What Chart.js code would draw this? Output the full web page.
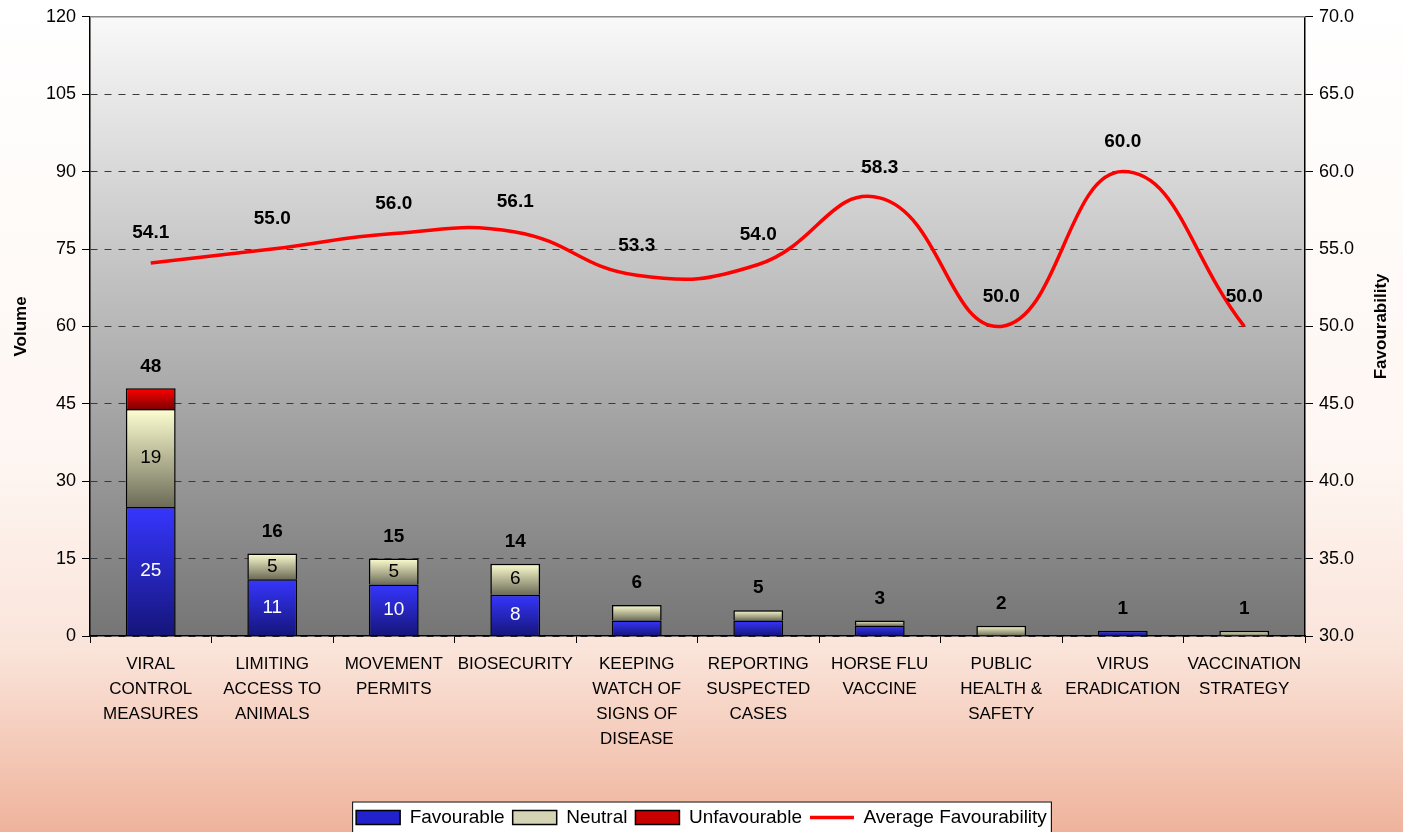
<!DOCTYPE html>
<html>
<head>
<meta charset="utf-8">
<script src="https://cdn.jsdelivr.net/npm/chart.js@4/dist/chart.umd.min.js"></script>
<style>
  html, body { margin: 0; padding: 0; background: #fff; }
  #wrap { width: 1403px; height: 832px; }
</style>
</head>
<body>
<div id="wrap"><canvas id="chart" width="1403" height="832"></canvas></div>
<script>
// data
const categories = [
    ['VIRAL', 'CONTROL', 'MEASURES'],
    ['LIMITING', 'ACCESS TO', 'ANIMALS'],
    ['MOVEMENT', 'PERMITS'],
    ['BIOSECURITY'],
    ['KEEPING', 'WATCH OF', 'SIGNS OF', 'DISEASE'],
    ['REPORTING', 'SUSPECTED', 'CASES'],
    ['HORSE FLU', 'VACCINE'],
    ['PUBLIC', 'HEALTH &', 'SAFETY'],
    ['VIRUS', 'ERADICATION'],
    ['VACCINATION', 'STRATEGY']
];
const favourable   = [25, 11, 10, 8, 3, 3, 2, 0, 1, 0];
const neutral      = [19, 5, 5, 6, 3, 2, 1, 2, 0, 1];
const unfavourable = [4, 0, 0, 0, 0, 0, 0, 0, 0, 0];
const avgFavourability = [54.1, 55.0, 56.0, 56.1, 53.3, 54.0, 58.3, 50.0, 60.0, 50.0];
const volumeTicks = [0, 15, 30, 45, 60, 75, 90, 105, 120];
const favTicks = [30, 35, 40, 45, 50, 55, 60, 65, 70];

const stacks = [favourable, neutral, unfavourable];
const totals = favourable.map((v, i) => v + neutral[i] + unfavourable[i]);

const FONT = "'Liberation Sans', Arial, sans-serif";

// verloop per staafsegment: licht boven, donker onder
function segmentGradient(top, bottom, solid) {
    return function (ctx) {
        const chart = ctx.chart;
        if (ctx.type !== 'data' || !chart.chartArea) return solid;
        const y = chart.scales.y;
        const i = ctx.dataIndex, d = ctx.datasetIndex;
        let base = 0;
        for (let k = 0; k < d; k++) base += stacks[k][i];
        const y0 = y.getPixelForValue(base);
        const y1 = y.getPixelForValue(base + stacks[d][i]);
        if (!isFinite(y0) || !isFinite(y1) || y0 === y1) return solid;
        const g = chart.ctx.createLinearGradient(0, y1, 0, y0);
        g.addColorStop(0, top);
        g.addColorStop(1, bottom);
        return g;
    };
}

const backgroundPlugin = {
    id: 'backgrounds',
    afterLayout(chart) {
        // legend sits a bit lower, its frame is cut by the page edge
        chart.legend.top += 5;
        chart.legend.bottom += 5;
    },
    beforeDraw(chart) {
        const c = chart.ctx, a = chart.chartArea;
        c.save();
        const page = c.createLinearGradient(0, 0, 0, chart.height);
        page.addColorStop(0, '#ffffff');
        page.addColorStop(0.55, '#fef6f2');
        page.addColorStop(0.78, '#fae4da');
        page.addColorStop(1, '#efb39c');
        c.fillStyle = page;
        c.fillRect(0, 0, chart.width, chart.height);

        const plot = c.createLinearGradient(0, a.top, 0, a.bottom);
        plot.addColorStop(0, '#f9f9f9');
        plot.addColorStop(1, '#757575');
        c.fillStyle = plot;
        c.fillRect(a.left, a.top, a.right - a.left, a.bottom - a.top);

        // legend frame
        const boxes = chart.legend.legendHitBoxes;
        if (boxes && boxes.length) {
            const l = Math.min(...boxes.map(b => b.left)) - 4;
            const r = Math.max(...boxes.map(b => b.left + b.width)) + 4;
            const cy = boxes[0].top + boxes[0].height / 2;
            c.fillStyle = '#ffffff';
            c.fillRect(l, cy - 16, r - l, 40);
            c.strokeStyle = '#000';
            c.lineWidth = 1;
            c.strokeRect(l + 0.5, cy - 16 + 0.5, r - l, 40);
        }
        c.restore();
    },
    afterDraw(chart) {
        const c = chart.ctx, a = chart.chartArea;
        c.save();
        c.strokeStyle = '#8a8a8a';
        c.lineWidth = 1.5;
        c.beginPath();
        c.moveTo(a.left, a.top);
        c.lineTo(a.right, a.top);
        c.stroke();

        // right axis title, read bottom to top
        c.translate(1381, (a.top + a.bottom) / 2);
        c.rotate(-Math.PI / 2);
        c.font = 'bold 17px ' + FONT;
        c.fillStyle = '#000';
        c.textAlign = 'center';
        c.textBaseline = 'middle';
        c.fillText('Favourability', 0, 0);
        c.restore();
    }
};

const labelPlugin = {
    id: 'valueLabels',
    afterDatasetsDraw(chart) {
        const c = chart.ctx;
        c.save();
        c.textAlign = 'center';
        c.textBaseline = 'middle';

        // values inside segments
        c.font = '19px ' + FONT;
        [0, 1, 2].forEach(d => {
            const meta = chart.getDatasetMeta(d);
            meta.data.forEach((bar, i) => {
                const v = stacks[d][i];
                if (v < 5) return;
                c.fillStyle = d === 0 ? '#ffffff' : '#000000';
                c.fillText(String(v), bar.x, (bar.y + bar.base) / 2);
            });
        });

        // totals above stacks
        c.font = 'bold 19px ' + FONT;
        c.fillStyle = '#000';
        const x = chart.scales.x, y = chart.scales.y;
        totals.forEach((t, i) => {
            c.fillText(String(t), x.getPixelForValue(i), y.getPixelForValue(t) - 22);
        });

        // line values
        const lm = chart.getDatasetMeta(3);
        lm.data.forEach((pt, i) => {
            c.fillText(avgFavourability[i].toFixed(1), pt.x, pt.y - 30);
        });
        c.restore();
    }
};

new Chart(document.getElementById('chart'), {
    type: 'bar',
    data: {
        labels: categories,
        datasets: [
            {
                label: 'Favourable',
                data: favourable,
                backgroundColor: segmentGradient('#3636ff', '#15157a', '#2424c8'),
                legendColor: '#2222cc',
                borderColor: '#000',
                borderWidth: 1.5,
                yAxisID: 'y',
                order: 2
            },
            {
                label: 'Neutral',
                data: neutral,
                backgroundColor: segmentGradient('#ffffd2', '#6c6c58', '#c8c8a8'),
                legendColor: '#d4d4b4',
                borderColor: '#000',
                borderWidth: 1.5,
                yAxisID: 'y',
                order: 2
            },
            {
                label: 'Unfavourable',
                data: unfavourable,
                backgroundColor: segmentGradient('#ff0000', '#800000', '#c00000'),
                legendColor: '#c80000',
                borderColor: '#000',
                borderWidth: 1.5,
                yAxisID: 'y',
                order: 2
            },
            {
                type: 'line',
                label: 'Average Favourability',
                data: avgFavourability,
                borderColor: '#ff0000',
                backgroundColor: '#ff0000',
                borderWidth: 3.5,
                pointRadius: 0,
                tension: 0.45,
                yAxisID: 'y1',
                order: 1
            }
        ]
    },
    options: {
        responsive: false,
        animation: false,
        layout: { padding: { top: 16, left: 0, right: 0, bottom: 0 } },
        datasets: {
            bar: { barPercentage: 0.82, categoryPercentage: 0.5 }
        },
        plugins: {
            tooltip: { enabled: false },
            legend: {
                position: 'bottom',
                labels: {
                    color: '#000',
                    font: { family: FONT, size: 19 },
                    padding: 8,
                    boxWidth: 44,
                    boxHeight: 14,
                    generateLabels(chart) {
                        return chart.data.datasets.map((ds, i) => {
                            const isLine = ds.type === 'line';
                            return {
                                text: ds.label,
                                fillStyle: isLine ? '#ff0000' : ds.legendColor,
                                strokeStyle: isLine ? '#ff0000' : '#000',
                                lineWidth: isLine ? 3.5 : 1.5,
                                pointStyle: isLine ? 'line' : 'rect',
                                fontColor: '#000',
                                datasetIndex: i,
                                hidden: false
                            };
                        });
                    },
                    usePointStyle: true,
                    pointStyleWidth: 44
                }
            }
        },
        scales: {
            x: {
                stacked: true,
                grid: {
                    display: true,
                    offset: true,
                    drawOnChartArea: false,
                    color: '#000',
                    tickLength: 7
                },
                border: { color: '#000', width: 1.5 },
                ticks: {
                    color: '#000',
                    font: { family: FONT, size: 17, lineHeight: 1.47 },
                    maxRotation: 0,
                    autoSkip: false,
                    padding: 9
                },
                afterFit(s) { s.height = 159; }
            },
            y: {
                stacked: true,
                position: 'left',
                min: 0,
                max: 120,
                afterBuildTicks(s) { s.ticks = volumeTicks.map(v => ({ value: v })); },
                grid: {
                    color: '#3a3a3a',
                    lineWidth: 1,
                    tickBorderDash: [],
                    tickColor: '#000',
                    tickLength: 8
                },
                border: { color: '#000', width: 1.5, dash: [7, 7] },
                ticks: {
                    color: '#000',
                    font: { family: FONT, size: 18 },
                    padding: 6
                },
                title: {
                    display: true,
                    text: 'Volume',
                    color: '#000',
                    font: { family: FONT, size: 17, weight: 'bold' },
                    padding: { top: 11, bottom: 0 }
                },
                afterFit(s) { s.width = 90; }
            },
            y1: {
                position: 'right',
                min: 30,
                max: 70,
                afterBuildTicks(s) { s.ticks = favTicks.map(v => ({ value: v })); },
                grid: {
                    drawOnChartArea: false,
                    color: '#000',
                    tickLength: 8
                },
                border: { color: '#000', width: 1.5 },
                ticks: {
                    color: '#000',
                    font: { family: FONT, size: 18 },
                    padding: 6,
                    callback: v => Number(v).toFixed(1)
                },
                afterFit(s) { s.width = 98; }
            }
        }
    },
    plugins: [backgroundPlugin, labelPlugin]
});
</script>
</body>
</html>
